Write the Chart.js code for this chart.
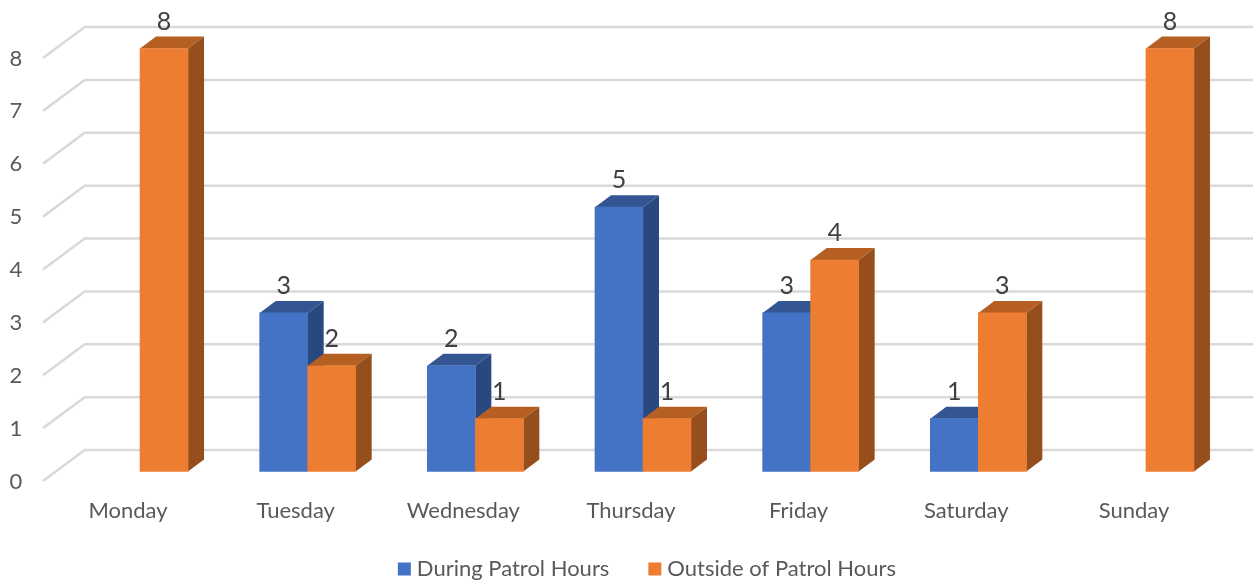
<!DOCTYPE html>
<html>
<head>
<meta charset="utf-8">
<title>Patrol Hours</title>
<style>
  html, body { margin: 0; padding: 0; background: #fff; overflow: hidden; }
  canvas { display: block; }
</style>
<script src="https://cdn.jsdelivr.net/npm/chart.js@4/dist/chart.umd.min.js"></script>
</head>
<body>
<canvas id="chart" width="1253" height="581"></canvas>
<script>
const days = ["Monday", "Tuesday", "Wednesday", "Thursday", "Friday", "Saturday", "Sunday"];
const duringPatrol = [null, 3, 2, 5, 3, 1, null];
const outsidePatrol = [8, 2, 1, 1, 4, 3, 8];
const yTicks = [0, 1, 2, 3, 4, 5, 6, 7, 8];

const textFont = "Lato";

// side and top shades of each series, front colour comes from the dataset
const shades = [
    { top: "#335693", side: "#2A4880" },
    { top: "#B55F23", side: "#964F1C" }
];

function face(ctx, color, points) {
    ctx.fillStyle = color;
    ctx.beginPath();
    points.forEach((p, i) => i ? ctx.lineTo(p[0], p[1]) : ctx.moveTo(p[0], p[1]));
    ctx.closePath();
    ctx.fill();
}

const depth3d = {
    id: "depth3d",
    afterLayout(chart) {
        // legend sits right of the page centre in the original
        const legend = chart.legend;
        legend.left += 34.5;
        legend.right += 34.5;
        legend.top = 514;
        // tick labels get clipped to the scale box otherwise
        chart.scales.x.bottom = 540;
    },
    beforeDatasetsDraw(chart) {
        const ctx = chart.ctx;
        const y = chart.scales.y;
        // grid on the side and back walls
        ctx.save();
        ctx.strokeStyle = "#D9D9D9";
        ctx.lineWidth = 2.5;
        yTicks.forEach(v => {
            const p = y.getPixelForValue(v);
            ctx.beginPath();
            ctx.moveTo(43, p + 9.5);
            ctx.lineTo(84.7, p - 21.5);
            ctx.lineTo(1253, p - 21.5);
            ctx.stroke();
        });
        ctx.restore();

        // blue first so orange sits in front of it
        [0, 1].forEach(d => {
            chart.getDatasetMeta(d).data.forEach((bar, i) => {
                if (chart.data.datasets[d].data[i] === null) return;
                const { x, y: top, base, width } = bar.getProps(["x", "y", "base", "width"]);
                const l = x - width / 2, r = x + width / 2;
                const dx = 16, dy = 12;
                face(ctx, shades[d].top, [[l, top], [l + dx, top - dy], [r + dx, top - dy], [r, top]]);
                face(ctx, shades[d].side, [[r, top], [r + dx, top - dy], [r + dx, base - dy], [r, base]]);
                bar.draw(ctx);
            });
        });
        return false;
    },
    afterDraw(chart) {
        const ctx = chart.ctx;
        ctx.save();
        ctx.font = "25px " + textFont;
        ctx.fillStyle = "#404040";
        ctx.textAlign = "center";
        ctx.textBaseline = "middle";
        [0, 1].forEach(d => {
            chart.getDatasetMeta(d).data.forEach((bar, i) => {
                const v = chart.data.datasets[d].data[i];
                if (v === null) return;
                ctx.fillText(String(v), bar.x, bar.y - 27);
            });
        });
        ctx.restore();
    }
};

new Chart(document.getElementById("chart"), {
    type: "bar",
    data: {
        labels: days,
        datasets: [
            { label: "During Patrol Hours", data: duringPatrol, backgroundColor: "#4472C4", barThickness: 48 },
            { label: "Outside of Patrol Hours", data: outsidePatrol, backgroundColor: "#ED7D31", barThickness: 48 }
        ]
    },
    options: {
        responsive: false,
        animation: false,
        layout: { padding: { top: 48.5, right: 23.2, left: 0, bottom: 0 } },
        scales: {
            x: {
                grid: { display: false },
                border: { display: false },
                afterFit(s) { s.height = 33.5; },
                ticks: {
                    color: "#595959",
                    font: { family: textFont, size: 22 },
                    padding: 18,
                    labelOffset: -12,
                    maxRotation: 0,
                    autoSkip: false
                }
            },
            y: {
                min: 0,
                max: 8,
                grid: { display: false },
                border: { display: false },
                afterFit(s) { s.width = 56.2; },
                ticks: {
                    stepSize: 1,
                    color: "#595959",
                    font: { family: textFont, size: 22 },
                    padding: 26,
                    labelOffset: 10
                }
            }
        },
        plugins: {
            tooltip: { enabled: false },
            legend: {
                position: "bottom",
                labels: {
                    color: "#595959",
                    font: { family: textFont, size: 22 },
                    boxWidth: 3,
                    boxHeight: 3,
                    padding: 44,
                    generateLabels(chart) {
                        // thick stroke gives a 13px swatch with a tighter gap to the text
                        return Chart.defaults.plugins.legend.labels.generateLabels(chart).map(item => {
                            item.strokeStyle = item.fillStyle;
                            item.lineWidth = 10;
                            return item;
                        });
                    }
                }
            }
        }
    },
    plugins: [depth3d]
});
</script>
</body>
</html>
